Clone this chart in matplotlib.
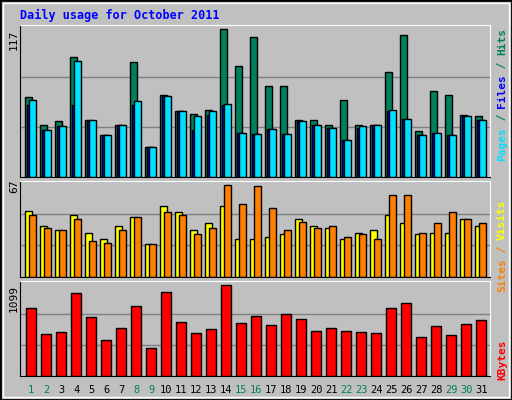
import numpy as np
import matplotlib.pyplot as plt
from matplotlib.patches import Rectangle

days = list(range(1, 32))
weekend = [1, 2, 8, 9, 15, 16, 22, 23, 29, 30]
hits = [63, 41, 44, 95, 45, 33, 41, 91, 24, 65, 52, 50, 53, 117, 88, 111,
        72, 72, 45, 45, 41, 61, 41, 41, 83, 112, 36, 68, 65, 49, 48]
files = [57, 37, 40, 57, 44, 33, 41, 57, 24, 64, 52, 37, 49, 57, 35, 34,
         38, 34, 44, 41, 39, 29, 39, 41, 52, 46, 33, 35, 33, 48, 45]
pages = [61, 37, 40, 92, 45, 33, 41, 60, 24, 64, 52, 48, 52, 58, 35, 34,
         38, 34, 44, 41, 39, 29, 40, 41, 53, 46, 33, 35, 33, 48, 45]
visits = [48, 37, 34, 45, 32, 28, 37, 44, 24, 52, 47, 34, 39, 52, 28, 28,
          29, 31, 42, 37, 36, 28, 32, 34, 45, 39, 31, 32, 32, 42, 37]
sites = [45, 36, 34, 42, 26, 25, 34, 44, 24, 47, 45, 31, 36, 67, 53, 66,
         50, 34, 40, 36, 37, 29, 31, 28, 60, 60, 32, 39, 47, 42, 39]
kbytes = [821, 507, 531, 1002, 713, 435, 580, 845, 338, 1015, 652, 519, 568,
          1099, 640, 725, 616, 749, 688, 543, 580, 543, 531, 519, 821, 882,
          471, 604, 495, 628, 676]

BG = '#c0c0c0'
W, H = 512, 400
fig = plt.figure(figsize=(W / 100, H / 100), dpi=100, facecolor=BG)
mono = 'DejaVu Sans Mono'

# raised border
fig.add_artist(Rectangle((0, 0), 1, 1, transform=fig.transFigure, fill=False,
                         edgecolor='black', lw=2))
fig.add_artist(Rectangle((3 / W, 3 / H), 1 - 6 / W, 1 - 6 / H, transform=fig.transFigure,
                         fill=False, edgecolor='white', lw=1))


def panel(top, bottom, ymax):
    ax = fig.add_axes([20 / W, 1 - bottom / H, 470 / W, (bottom - top) / H])
    ax.set_facecolor(BG)
    ax.set_xlim(0, 470 / 15)
    ax.set_ylim(0, ymax)
    ax.set_xticks([])
    ax.set_yticks([])
    for s in ['top', 'right']:
        ax.spines[s].set_color('white')
    for s in ['left', 'bottom']:
        ax.spines[s].set_color('black')
    for f in (1 / 3, 2 / 3):
        ax.axhline(ymax * f * 0.985, color='#808080', lw=1, zorder=0)
    return ax


x = np.array(days) - 1

ax1 = panel(25, 177, 117 * 151 / 147)
kw = dict(width=0.467, align='edge', edgecolor='black', lw=1)
ax1.bar(x + 0.353, hits, color='#00805c', **kw)
ax1.bar(x + 0.486, files, color='#0000ff', **kw)
ax1.bar(x + 0.62, pages, color='#00e0ff', **kw)

ax2 = panel(181, 277, 67 * 96 / 92)
ax2.bar(x + 0.353, visits, color='#ffff00', **kw)
ax2.bar(x + 0.62, sites, color='#ff8000', **kw)

ax3 = panel(281, 376, 1099 * 95 / 91)
ax3.bar(x + 0.42, kbytes, width=0.667, align='edge', color='#ff0000',
        edgecolor='black', lw=1)
for d in days:
    ax3.text(d - 1 + 0.75, -14 / 95 * ax3.get_ylim()[1] * 1.0, str(d),
             ha='center', va='center', fontsize=7.5, family=mono,
             color='#00805c' if d in weekend else 'black', clip_on=False)

fig.text(20 / W, 1 - 15 / H, 'Daily usage for October 2011', color='#0000ff',
         family=mono, fontweight='bold', fontsize=8.5, va='center')
for txt, y in [('117', 40), ('67', 186), ('1099', 298)]:
    fig.text(14 / W, 1 - y / H, txt, rotation=90, family=mono, fontsize=8,
             ha='center', va='center')


def right_label(parts, ytop):
    y = ytop
    for t, c in parts:
        fig.text(502 / W, 1 - y / H, t, rotation=90, family=mono, fontsize=8,
                 color=c, ha='center', va='top', fontweight='bold')
        y += len(t) * 6.6


right_label([('Hits', '#00805c'), (' / ', '#00805c'), ('Files', '#0000ff'),
             (' / ', '#00805c'), ('Pages', '#00e0ff')], 28)
right_label([('Visits', '#ffff00'), (' / ', '#ff8000'), ('Sites', '#ff8000')], 199)
right_label([('KBytes', '#ff0000')], 340)

fig.savefig('out.png', dpi=100, facecolor=BG)
